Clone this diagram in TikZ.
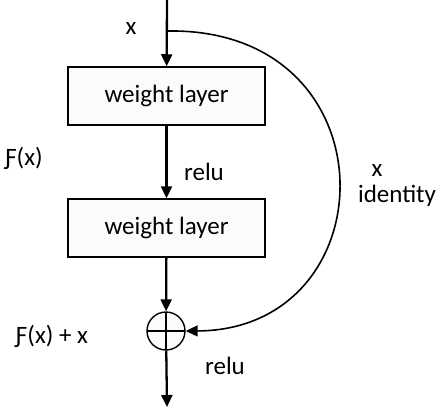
\documentclass[tikz,border=0pt]{standalone}
\usepackage{fontspec}
\setmainfont{Carlito}
\usetikzlibrary{arrows.meta,positioning}

\begin{document}
\begin{tikzpicture}[
    x=1pt, y=-1pt,
    font=\fontsize{25}{30}\selectfont,
    layer/.style={draw, line width=1.5pt, fill=gray!3, minimum width=197pt, minimum height=58pt, inner sep=0pt},
    addop/.style={draw, circle, line width=1.4pt, fill=gray!3, minimum size=38pt, inner sep=0pt,
        path picture={\draw[line width=2pt] (path picture bounding box.west) -- (path picture bounding box.east)
            (path picture bounding box.north) -- (path picture bounding box.south);}},
    arrow/.style={-{Triangle[length=12pt, width=11pt]}, line width=2.3pt},
    skip/.style={-{Triangle[length=12pt, width=11pt]}, line width=1.6pt}
]
\useasboundingbox (0,0) rectangle (436,408);
\coordinate (in) at (167,0);
\coordinate (split) at (167,31);
\node[layer] (w1) at (166.5,96) {weight layer};
\node[layer] (w2) at (166.5,228) {weight layer};
\node[addop] (add) at (166,331) {};
\coordinate (out) at (167,407);

\node (xin) at (131,29) {x};
\node (fx) at (24,158) {Ƒ(x)};
\node (relu1) at (204,172) {relu};
\node (xid) at (377,171) {x};
\node (ident) at (397,196) {identity};
\node (sum) at (52,336) {Ƒ(x) + x};
\node (relu2) at (225,366) {relu};

\draw[arrow] (in) -- (w1);
\draw[arrow] (w1) -- (w2);
\draw[arrow] (w2) -- (add);
\draw[arrow] (add) -- (out);
\draw[skip] (split) .. controls (395,27) and (390,330) .. (add.east);
\end{tikzpicture}
\end{document}
